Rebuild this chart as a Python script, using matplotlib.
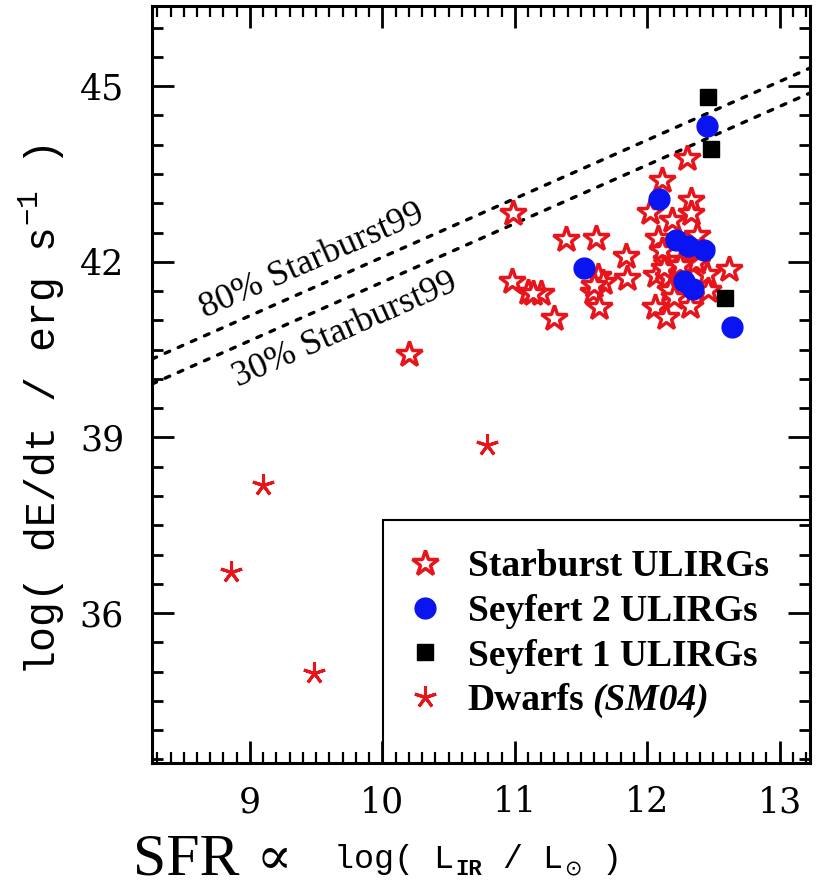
import numpy as np
import matplotlib
matplotlib.use("Agg")
import matplotlib.pyplot as plt
from matplotlib.patches import Rectangle
from matplotlib.ticker import MultipleLocator

# ---------------- data ----------------
starburst_x = [12.30, 12.11, 12.02, 12.33, 12.33, 12.19, 11.39, 11.61, 11.84, 11.85,
               11.63, 11.67, 11.59, 11.64, 11.30, 11.20, 12.06, 12.14, 12.32, 12.62,
               12.08, 12.38, 12.07, 12.14, 12.16, 12.17, 12.45, 12.46, 12.37, 12.11,
               10.99, 10.98, 11.10, 11.14, 10.20, 12.41, 12.13, 11.60, 12.25, 12.20]
starburst_y = [43.77, 43.39, 42.85, 43.05, 42.83, 42.72, 42.39, 42.40, 42.10, 41.72,
               41.76, 41.66, 41.49, 41.23, 41.04, 41.46, 41.23, 41.05, 41.24, 41.87,
               42.40, 42.46, 41.77, 42.03, 41.74, 41.52, 41.80, 41.52, 42.00, 42.20,
               42.83, 41.67, 41.48, 41.46, 40.42, 42.20, 41.90, 41.60, 41.95, 41.40]
sy2_x = [12.45, 12.09, 11.52, 12.215, 12.31, 12.43, 12.275, 12.35, 12.64]
sy2_y = [44.32, 43.07, 41.89, 42.38, 42.27, 42.21, 41.68, 41.53, 40.89]
sy1_x = [12.457, 12.48, 12.59]
sy1_y = [44.81, 43.92, 41.38]
dwarf_x = [8.86, 9.10, 9.48, 10.79]
dwarf_y = [36.70, 38.19, 34.98, 38.87]

sb99_offset_80 = 32.08     # log(dE/dt) = log(L_IR) + offset
sb99_offset_30 = 31.654

series_labels = ["Starburst ULIRGs", "Seyfert 2 ULIRGs", "Seyfert 1 ULIRGs", "Dwarfs"]
line_labels = ["80% Starburst99", "30% Starburst99"]
xticks = [9, 10, 11, 12, 13]
yticks = [36, 39, 42, 45]

# ---------------- figure ----------------
W, H = 819, 888
fig = plt.figure(figsize=(W / 100, H / 100), dpi=100)
ax_l, ax_r, ax_t, ax_b = 152, 810, 6, 763
ax = fig.add_axes([ax_l / W, 1 - ax_b / H, (ax_r - ax_l) / W, (ax_b - ax_t) / H])
ax.set_xlim(8.26, 13.23)
ax.set_ylim(33.44, 46.37)

red = "#e8141c"

# dotted Starburst99 lines
xl = np.array(ax.get_xlim())
for off in (sb99_offset_80, sb99_offset_30):
    ax.plot(xl, xl + off, color="black", lw=2.4, linestyle=(0, (1.5, 2.8)),
            dash_capstyle="round", zorder=2)

h_sb, = ax.plot(starburst_x, starburst_y, linestyle="none", marker="*", ms=19,
                mfc="white", mec=red, mew=2.5, zorder=3)
h_s2, = ax.plot(sy2_x, sy2_y, linestyle="none", marker="o", ms=15,
                mfc="#0a14f0", mec="#0a14f0", zorder=4)
h_s1, = ax.plot(sy1_x, sy1_y, linestyle="none", marker="s", ms=11,
                mfc="black", mec="black", zorder=4)
h_dw, = ax.plot(dwarf_x, dwarf_y, linestyle="none", marker=(5, 2, 0), ms=16,
                mec=red, mew=2.2, zorder=3)

# axes style
for sp in ax.spines.values():
    sp.set_linewidth(2.2)
ax.set_xticks(xticks)
ax.set_yticks(yticks)
ax.xaxis.set_minor_locator(MultipleLocator(0.1))
ax.yaxis.set_minor_locator(MultipleLocator(0.5))
ax.tick_params(which="both", direction="in", top=True, right=True, width=2.0)
ax.tick_params(which="major", length=16)
ax.tick_params(which="minor", length=8)
ax.tick_params(axis="x", which="minor", width=1.6)
ax.tick_params(axis="x", which="major", pad=16)
ax.tick_params(axis="y", which="major", pad=20)
for lab in ax.get_xticklabels() + ax.get_yticklabels():
    lab.set_fontfamily("DejaVu Serif")
    lab.set_fontsize(25)

# line labels, rotated along the lines
p1 = ax.transData.transform((9, 9 + sb99_offset_80))
p2 = ax.transData.transform((12, 12 + sb99_offset_80))
ang = np.degrees(np.arctan2(p2[1] - p1[1], p2[0] - p1[0]))
ax.text(9.47, 9.47 + sb99_offset_80 + 0.45, line_labels[0], rotation=ang,
        rotation_mode="anchor", ha="center", va="center",
        fontfamily="Liberation Serif", fontsize=26)
ax.text(9.72, 9.72 + sb99_offset_30 - 0.54, line_labels[1], rotation=ang,
        rotation_mode="anchor", ha="center", va="center",
        fontfamily="Liberation Serif", fontsize=26)

# legend box
bx = (383 - ax_l) / (ax_r - ax_l)
by = (ax_b - 520) / (ax_b - ax_t)
ax.add_patch(Rectangle((bx, -0.05), 1.0, by + 0.05, transform=ax.transAxes,
                       facecolor="white", edgecolor="black", lw=1.5, zorder=1.5,
                       clip_on=True))
leg = ax.legend([h_sb, h_s2, h_s1, h_dw], series_labels, loc="upper left",
                bbox_to_anchor=((406 - ax_l) / (ax_r - ax_l), (ax_b - 549) / (ax_b - ax_t)),
                frameon=False, handlelength=1.0, handletextpad=0.65,
                labelspacing=0.26, borderpad=0, borderaxespad=0,
                prop={"family": "Liberation Serif", "weight": "bold", "size": 27})
leg.set_zorder(5)

fig.canvas.draw()
r = fig.canvas.get_renderer()
tb = leg.get_texts()[3].get_window_extent(r)
fig.text((tb.x1 + 8) / W, (tb.y0 + tb.y1) / 2 / H, "(SM04)", ha="left", va="center",
         fontfamily="Liberation Serif", fontweight="bold", fontstyle="italic", fontsize=27)

# y label
plt.rcParams["mathtext.fontset"] = "custom"
plt.rcParams["mathtext.rm"] = "Liberation Mono"
plt.rcParams["mathtext.it"] = "Liberation Mono"
fig.text(42 / W, 1 - 410 / H, "log( dE/dt / erg s$^{-1}$ )", rotation=90,
         ha="center", va="center", fontfamily="Liberation Mono", fontweight="normal",
         fontsize=30)

# x label (mixed fonts)
pieces = [
    ("SFR", "Liberation Serif", 43, 0, 0),
    (" \u221d", "DejaVu Serif", 38, 0, 0),
    ("  log( L", "Liberation Mono", 24, 6, 0),
    ("IR", "Liberation Mono", 16, -1, 1),
    (" / L", "Liberation Mono", 24, 6, 0),
    ("\u2299", "DejaVu Sans", 15, -1, 0),
    (" )", "Liberation Mono", 24, 6, 0),
]
x = 133.0
base = H - 874.0
for txt, fam, fs, dy, bold in pieces:
    t = fig.text(x / W, (base + dy) / H, txt, ha="left", va="baseline",
                 fontfamily=fam, fontsize=fs, fontweight="bold" if bold else "normal")
    fig.canvas.draw()
    bb = t.get_window_extent(r)
    x = bb.x1 + 1

fig.savefig("out.png", dpi=100)
